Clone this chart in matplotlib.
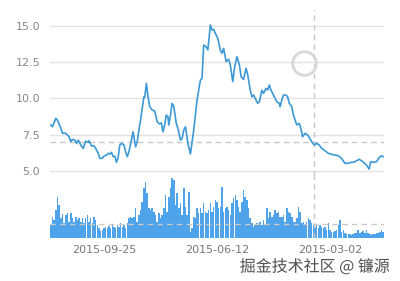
import matplotlib
matplotlib.use("Agg")
import matplotlib.pyplot as plt
import matplotlib.patheffects as pe

# ---- data ----
price_days = [0, 2, 6, 8, 12, 14, 18, 20, 22, 24, 26, 29, 31, 33, 36, 39, 42, 45, 46, 49,
              52, 54, 57, 59, 62, 64, 67, 69, 71, 73, 75, 77, 79, 81, 83, 85, 88, 90, 92, 94,
              97, 99, 100, 102, 104, 106, 108, 110, 112, 113, 115, 117, 119, 122, 125, 128, 131, 133, 135, 137,
              139, 141, 142, 144, 146, 148, 151, 153, 156, 158, 160, 162, 165, 168, 172, 176, 180, 182, 184, 187,
              189, 192, 194, 196, 198, 201, 204, 206, 208, 211, 214, 216, 219, 221, 224, 227, 229, 232, 235, 237,
              240, 242, 244, 246, 249, 251, 254, 256, 259, 261, 263, 265, 267, 270, 272, 275, 276, 278, 280, 283,
              285, 287, 290, 292, 294, 296, 299, 301, 303, 306, 309, 311, 314, 317, 320, 323, 326, 330, 334, 338,
              342, 346, 350, 354, 358, 361, 364, 368, 371, 374, 377, 380, 383, 385, 388, 392, 395, 398, 400]
price = [8.17, 8.05, 8.63, 8.50, 7.96, 7.60, 7.60, 7.48, 7.36, 7.02, 7.18, 7.13, 6.90, 7.13, 6.79, 6.56, 7.06, 6.97, 7.09, 6.72,
         6.74, 6.56, 6.22, 5.87, 5.87, 6.03, 6.10, 6.22, 6.17, 6.29, 5.99, 6.03, 5.60, 5.94, 6.79, 6.90, 6.79, 6.33, 5.99, 6.33,
         7.13, 7.70, 7.36, 6.67, 7.02, 7.82, 8.51, 9.31, 10.11, 10.07, 11.03, 10.11, 9.43, 9.20, 9.13, 8.39, 8.23, 8.32, 7.70, 8.17,
         8.85, 8.74, 8.17, 8.85, 9.66, 9.43, 8.28, 7.93, 7.13, 7.25, 7.82, 8.05, 6.90, 6.17, 7.82, 9.89, 11.26, 11.38, 13.67, 13.55,
         13.33, 15.05, 14.70, 14.75, 14.47, 14.13, 13.33, 13.10, 13.44, 12.53, 12.69, 12.30, 11.15, 12.07, 12.87, 12.30, 11.49, 11.31, 12.07, 11.61,
         10.57, 10.11, 10.23, 10.00, 9.66, 9.77, 10.57, 10.34, 10.69, 10.57, 10.92, 10.57, 10.34, 10.00, 9.77, 9.66, 9.43, 9.89, 10.23, 10.23,
         10.11, 9.66, 9.43, 8.85, 8.51, 8.17, 8.28, 7.93, 7.36, 7.60, 7.48, 7.31, 7.02, 6.79, 6.90, 6.79, 6.56, 6.40, 6.22, 6.15,
         6.10, 6.05, 5.87, 5.53, 5.53, 5.60, 5.60, 5.71, 5.81, 5.71, 5.57, 5.41, 5.14, 5.64, 5.60, 5.64, 5.92, 6.05, 5.99]

volume = [13, 21, 18, 28, 41, 33, 20, 24, 15, 23, 25, 16, 25, 20, 16, 21, 18, 20, 16, 20,
          15, 20, 23, 16, 20, 15, 21, 18, 13, 10, 7, 8, 10, 11, 10, 12, 10, 14, 11, 10,
          13, 11, 15, 11, 13, 10, 15, 20, 21, 20, 21, 30, 16, 23, 28, 36, 50, 56, 45, 30,
          28, 30, 26, 23, 16, 25, 20, 23, 30,
          43, 26, 41, 50, 60, 58, 33, 45, 30, 35, 23, 50, 31, 23, 46, 6, 10, 21, 20, 30,
          25, 30, 25, 35, 26, 25, 28, 35, 26, 31, 38, 36, 30, 31, 51, 26, 30, 31, 28, 23,
          35, 40, 43, 38, 31, 26, 36, 48, 41, 38, 30, 20, 15, 11, 13, 15, 13, 16, 13, 18,
          13, 30, 20, 26, 21, 23, 28, 25, 26,
          21, 21, 23, 16, 30, 26, 25, 21, 16, 16, 20, 31, 26, 15, 16, 13, 16, 20, 18, 15,
          13, 11, 13, 10, 13, 11, 10, 11, 8, 15, 8, 6, 6, 7, 8, 13, 18, 6, 8, 5,
          4, 4, 4, 3, 4, 5, 5, 8, 5, 6, 7, 5, 8, 5, 4, 3, 4, 4, 5, 5,
          6, 8, 6]
volume_days = [2 * i for i in range(len(volume))]

price_ref = 7.0
volume_ref = 14
cursor_day = 317
marker_day, marker_price = 305, 12.43
tick_days = [64, 200, 336]
tick_labels = ["2015-09-25", "2015-06-12", "2015-03-02"]
yticks = [5.0, 7.5, 10.0, 12.5, 15.0]

W, H = 400, 281
fig = plt.figure(figsize=(4.0, 2.81), dpi=100)
fig.patch.set_facecolor("white")

def rect(x0, y0, x1, y1):
    return [x0 / W, 1 - y1 / H, (x1 - x0) / W, (y1 - y0) / H]

ax = fig.add_axes(rect(50, 10, 384, 176))
axv = fig.add_axes(rect(50, 176, 384, 238))

xlim = (-1, 401)
line_color = "#3d99d6"
bar_color = "#4ea3ea"
grid_color = "#e4e4e4"
dash_color = "#c8c8c8"

# price axes
ax.set_xlim(*xlim)
ax.set_ylim(4.66, 16.08)
for y in yticks:
    ax.axhline(y, color=grid_color, lw=1.0, zorder=0)
ax.axhline(price_ref, color=dash_color, lw=1.0, ls=(0, (4, 3)), zorder=1)
ax.plot(price_days, price, color=line_color, lw=1.2, zorder=3)
ax.axvline(cursor_day, color=dash_color, lw=1.0, ls=(0, (4, 3)), zorder=2)
ax.plot([marker_day], [marker_price], marker="o", ms=17, mfc="none",
        mec="#d8d8d8", mew=2.0, zorder=4)
ax.set_yticks(yticks)
ax.set_yticklabels([f"{v:.1f}" for v in yticks])
ax.tick_params(axis="y", length=0, pad=7, labelsize=8, labelcolor="#888888")
ax.set_xticks([])
for s in ax.spines.values():
    s.set_visible(False)
ax.patch.set_alpha(0)

# volume axes
axv.set_xlim(*xlim)
axv.set_ylim(0, 62)
axv.bar(volume_days, volume, width=1.85, color=bar_color, linewidth=0, zorder=2)
axv.axhline(volume_ref, color=dash_color, lw=1.0, ls=(0, (4, 3)), zorder=3)
axv.axvline(cursor_day, color=dash_color, lw=1.0, ls=(0, (4, 3)), zorder=3)
axv.set_yticks([])
axv.set_xticks(tick_days)
axv.set_xticklabels(tick_labels)
axv.tick_params(axis="x", length=0, pad=5, labelsize=8, labelcolor="#777777")
for s in axv.spines.values():
    s.set_visible(False)
axv.patch.set_alpha(0)

# watermark
fig.text(390 / W, 1 - 267 / H, "掘金技术社区 @ 镰源", ha="right", va="center",
         fontsize=11.5, color="#505050",
         family=["Noto Sans CJK SC", "DejaVu Sans"],
         path_effects=[pe.withStroke(linewidth=2, foreground="white")])

fig.savefig("out.png", dpi=100)
